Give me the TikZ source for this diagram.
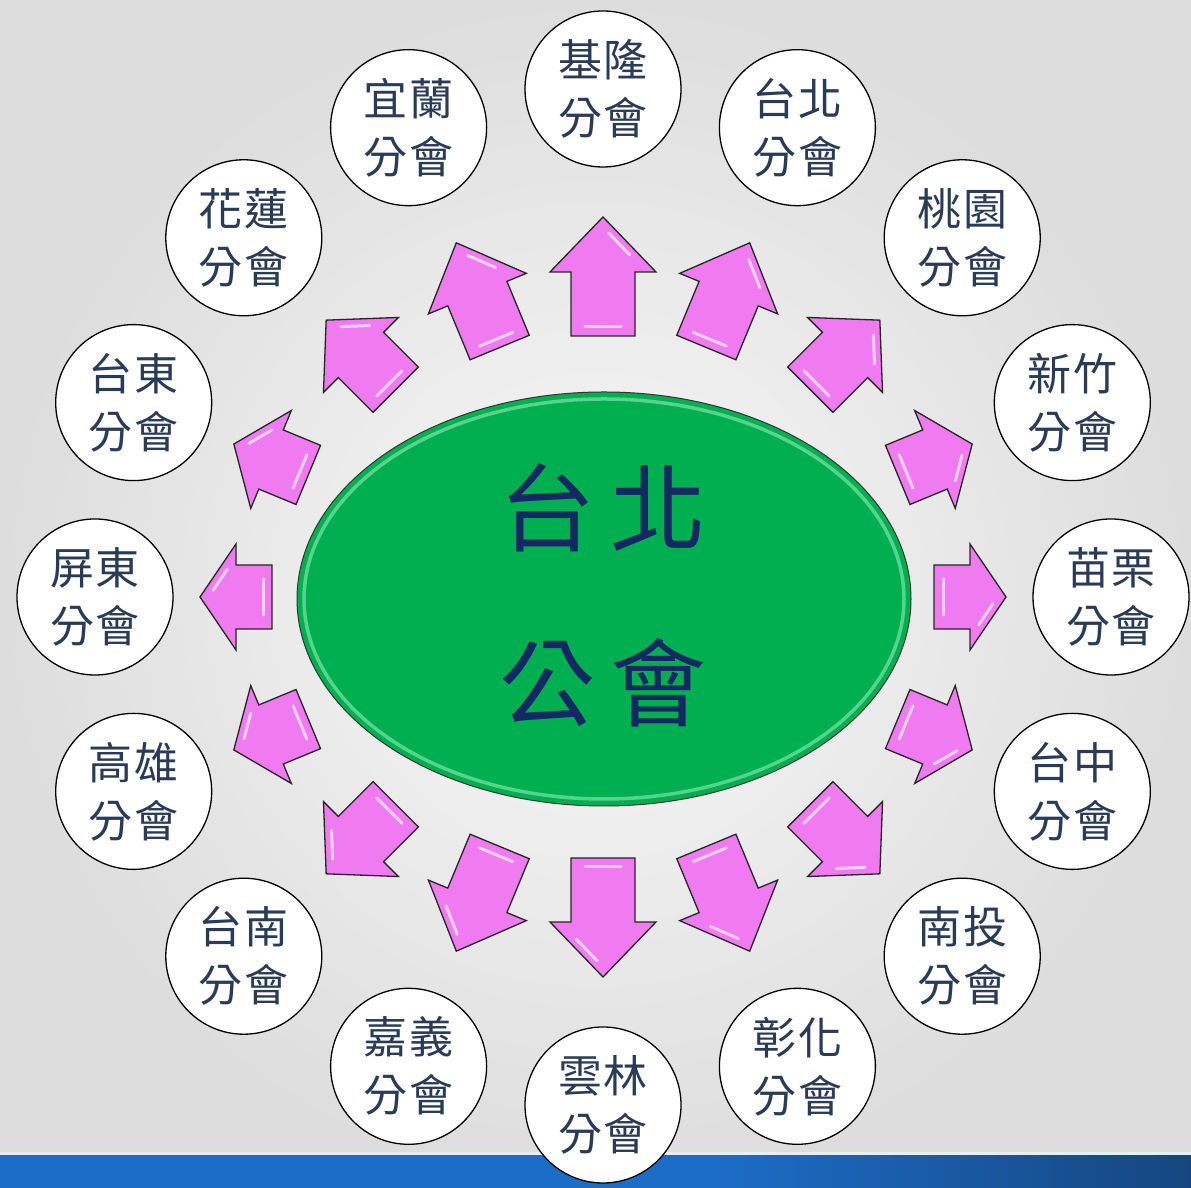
\documentclass[tikz,border=0pt]{standalone}
\usepackage{fontspec}
\newfontfamily\cjk{Noto Sans CJK TC}
\usetikzlibrary{shapes.geometric}
\definecolor{bgin}{HTML}{F9F9F9}
\definecolor{bgout}{HTML}{DDDDDD}
\definecolor{pinkfill}{HTML}{F07AF0}
\definecolor{hubgreen}{HTML}{00B050}
\definecolor{hubrim}{HTML}{7BE3A8}
\definecolor{hubtext}{HTML}{142864}
\definecolor{branchtext}{HTML}{2A3B58}
\definecolor{bandblue}{HTML}{1C6DC7}
\definecolor{banddark}{HTML}{15467F}
\definecolor{bandline}{HTML}{E6EEF6}
\definecolor{tanline}{HTML}{E9DCCD}
\pgfdeclarehorizontalshading{bandshade}{100bp}{color(0bp)=(bandblue); color(25bp)=(bandblue); color(55bp)=(bandblue); color(75bp)=(banddark); color(100bp)=(banddark)}
\tikzset{
  branch/.style={circle, draw=black, line width=1.3pt, fill=white, minimum size=156pt,
    inner sep=0pt, align=center, text=branchtext, font=\cjk\fontsize{44}{58}\selectfont},
  arrowshape/.style={fill=pinkfill, draw=black!85, line width=1.3pt, line join=miter},
  gloss/.style={white, opacity=0.65, line width=3pt, line cap=round},
  hubshape/.style={ellipse, minimum width=614pt, minimum height=414pt, inner sep=0pt,
    fill=hubgreen, draw=black!80, line width=1pt},
  hubfont/.style={font=\cjk\fontsize{96}{175}\selectfont, text=hubtext, align=center}
}
\begin{document}
\begin{tikzpicture}[x=1pt,y=1pt]
\useasboundingbox (0,0) rectangle (1191,1188);
% background
\shade[inner color=bgin, outer color=bgout] (0,0) rectangle (1191,1188);
\draw[tanline, line width=2pt, opacity=0.6] (0,50) -- (1191,50);
\fill[bandline] (0,32) rectangle (1191,36);
\shade[shading=bandshade] (0,0) rectangle (1191,32);
\coordinate (C) at (603,591);
% hub
\node[hubshape] (hub) at (604,589) {};
\draw[hubrim, line width=3.5pt, opacity=0.7] (hub.center) ellipse [x radius=300, y radius=200];
\node[hubfont] (hublabel) at (603,592.5) {台\hspace{16pt}北\\公\hspace{16pt}會};
% arrows
\foreach \a in {0,22.5,...,337.5}{
  \pgfmathsetmacro\T{403-23*sin(\a)*sin(\a)}
  \pgfmathsetmacro\L{sqrt(5184*cos(\a)*cos(\a)+14161*sin(\a)*sin(\a))}
  \pgfmathsetmacro\H{min(0.5*\L,55)}
  \pgfmathsetmacro\B{\T-\L}
  \pgfmathsetmacro\N{\T-\H}
  \pgfmathsetmacro\nn{sqrt(2809+\H*\H)}
  \pgfmathsetmacro\ux{-53*7/\nn}
  \pgfmathsetmacro\uy{\H*7/\nn}
  \begin{scope}[shift={(C)}, rotate=\a]
    \draw[arrowshape] (\B,-32) -- (\N,-32) -- (\N,-53) -- (\T,0) -- (\N,53) -- (\N,32) -- (\B,32) -- cycle;
    \draw[gloss] ({\B+9},-18) -- ({\B+9},18);
    \draw[gloss] ({\T-0.2*\H+\ux},{-10.6+\uy}) -- ({\T-0.6*\H+\ux},{-31.8+\uy});
  \end{scope}
}
% branch circles
\foreach \a/\n/\p/\q in {90/c1/基/隆, 67.5/c2/台/北, 45/c3/桃/園, 22.5/c4/新/竹,
  0/c5/苗/栗, -22.5/c6/台/中, -45/c7/南/投, -67.5/c8/彰/化, -90/c9/雲/林,
  -112.5/c10/嘉/義, -135/c11/台/南, -157.5/c12/高/雄, 180/c13/屏/東,
  157.5/c14/台/東, 135/c15/花/蓮, 112.5/c16/宜/蘭}{
  \node[branch] (\n) at ([shift={(\a:508)}]C) {\p\hspace{2pt}\q\\分\hspace{2pt}會};
}
\end{tikzpicture}
\end{document}
